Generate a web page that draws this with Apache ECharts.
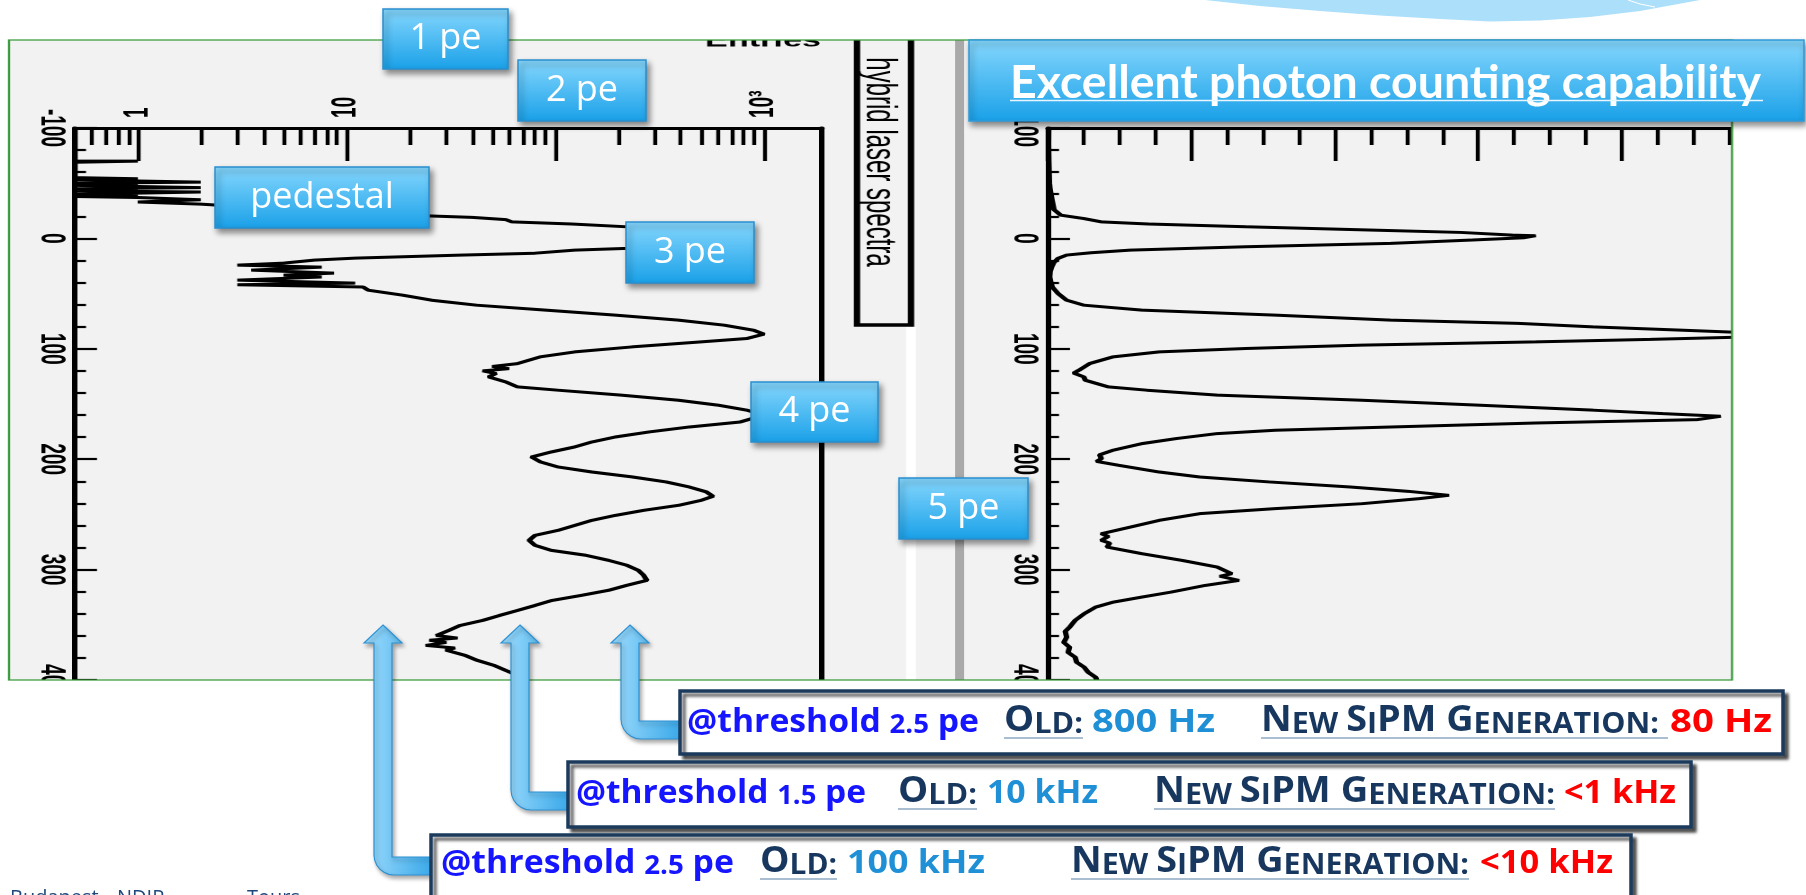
<!DOCTYPE html>
<html><head><meta charset="utf-8">
<script src="https://cdn.jsdelivr.net/npm/echarts@6/dist/echarts.min.js"></script>
<style>
html,body{margin:0;padding:0;background:#fff;overflow:hidden;width:1806px;height:895px;}
#plots{position:absolute;left:0;top:0;width:1004px;height:895px;transform:scaleX(1.8);transform-origin:0 0;}
#overlay{position:absolute;left:0;top:0;width:1806px;height:895px;}
</style></head><body>
<div id="plots"></div><div id="overlay"></div>
<script>
// ---------------- DATA ----------------
const channelTickLabels = ['-100', '0', '100', '200', '300', '400'];
const entriesDecades = [1, 10, 100, 1000];
const entriesDecadeLabels = ['1', '10', '10²', '10³'];
const entriesMinorTicks = [0.6, 0.7, 0.8, 0.9, 2, 3, 4, 5, 6, 7, 8, 9, 20, 30, 40, 50, 60, 70, 80, 90, 200, 300, 400, 500, 600, 700, 800, 900];
const linearMajorTicks = [0, 1000, 2000, 3000, 4000];
const linearMinorTicks = [250, 500, 750, 1250, 1500, 1750, 2250, 2500, 2750, 3250, 3500, 3750, 4250, 4500, 4750];

// left spectrum (log scale): channel vs entries (0 = empty bin)
const leftChannel = [-100, -70, -70, -69, -69, -55, -54, -54, -53, -52, -51, -50, -49, -48, -47, -46, -45, -44, -43, -42, -41, -40, -39, -38, -37, -36, -35, -33, -31, -29, -27, -24, -21, -19, -17, -15, -13, -10.5, -8, -5, -2, 1, 4, 7, 9, 10.6, 13.4, 15.1, 17.9, 19.7, 22.4, 24.2, 26, 28.7, 31.5, 33.3, 35, 37.8, 40.5, 42, 44, 46.9, 51.4, 56, 60.5, 65, 69.5, 74, 78.6, 83.1, 86.7, 90.7, 93.7, 98.3, 102.8, 107.3, 113.4, 116, 118, 120, 122.4, 125.5, 130, 134.5, 137.5, 142, 146.6, 151, 155.6, 160, 166.3, 170.8, 175.3, 179.9, 184.4, 188.9, 193.4, 198, 202.5, 207, 211.6, 216, 220.6, 225.2, 229.6, 233.6, 237.3, 241.8, 246.3, 250.9, 255.4, 260, 264.5, 269, 273.5, 278, 282.6, 287, 291.6, 296, 300.6, 305, 309.8, 314.3, 318.8, 323.4, 328, 332.5, 337, 341.6, 346, 350.6, 355, 359.7, 362, 364, 366, 368.7, 371, 373, 377.7, 382, 386.8, 391.3, 395.8, 400];
const leftEntries = [0, 0, 1, 1, 0, 0, 0, 1, 0, 1, 2, 0, 1, 0, 1, 2, 0, 1, 0, 2, 1, 0, 1, 0, 1, 1, 2, 1, 2, 3, 5, 9, 20, 40, 58, 62, 120, 221, 400, 620, 720, 650, 480, 330, 221, 124, 80, 35, 11, 7, 5, 3, 7.6, 3.5, 8.7, 5, 7.6, 3, 11, 3, 12, 12.7, 18.6, 25.6, 42, 90, 194, 389, 646, 890, 1000, 830, 500, 233, 124, 85, 66, 50, 60, 45, 52, 48, 58, 66, 103, 207, 390, 600, 830, 1000, 770, 440, 282, 194, 150, 124, 96, 77, 85, 103, 150, 233, 340, 440, 530, 570, 500, 390, 266, 194, 150, 124, 103, 80, 75, 80, 96, 140, 180, 220, 250, 265, 275, 220, 180, 133, 96, 80, 66, 54, 45, 35, 31, 27, 34, 25, 30, 24, 33, 30, 37, 42, 51, 58, 66, 70];

// right spectrum (linear scale)
const rightChannel = [-100, -85, -70, -60, -50, -44, -35, -26, -21, -18, -15, -13, -10.5, -7.5, -5.4, -3, -2.4, -0.6, 1.5, 4.5, 7.6, 10.6, 13, 15.1, 18.1, 22, 26, 30, 35, 40, 44, 49.9, 56, 60.5, 65, 69.5, 74, 77, 80.1, 83.1, 86.1, 88, 89.2, 91.5, 93.7, 96.7, 99.7, 102.8, 107.3, 113.3, 119.4, 122, 125.5, 128.5, 134.5, 137.5, 142, 146.6, 151, 155.6, 158.7, 161.1, 164.1, 167.2, 170.8, 173.8, 176.8, 181.3, 185.9, 191.9, 196, 199.5, 202, 205.5, 211.6, 216.1, 220.6, 225.2, 229.1, 232.7, 235.7, 240.3, 244.8, 249.3, 255.4, 261.5, 267.5, 270, 273.5, 276, 279.6, 285.6, 291.7, 297.7, 303.7, 306, 309.8, 314.3, 320.4, 324.9, 329.5, 334, 340, 346, 352.2, 356, 361.2, 366, 370.3, 375, 379.3, 384, 388.4, 393, 397.5, 400];
const rightEntries = [5, 4, 6, 8, 10, 15, 28, 42, 90, 250, 370, 700, 1380, 2270, 2880, 3240, 3400, 3320, 2960, 2390, 1380, 573, 300, 130, 70, 40, 25, 15, 12, 20, 30, 70, 130, 250, 655, 1584, 2390, 3280, 3800, 4410, 5000, 5100, 4900, 4200, 3400, 2190, 1380, 776, 453, 291, 216, 180, 250, 260, 420, 690, 1180, 2190, 2996, 3800, 4290, 4690, 4530, 3400, 2390, 1584, 1180, 895, 655, 453, 360, 372, 340, 493, 776, 1058, 1543, 2108, 2512, 2795, 2590, 2190, 1584, 1058, 776, 573, 372, 420, 372, 430, 412, 655, 936, 1180, 1280, 1200, 1330, 1097, 857, 655, 453, 332, 252, 189, 150, 120, 130, 110, 150, 140, 189, 200, 252, 280, 332, 340];

// slide texts
const peLabels = ['1 pe', '2 pe', 'pedestal', '3 pe', '4 pe', '5 pe'];
const bannerTitle = 'Excellent photon counting capability';
const thresholds = ['2.5', '1.5', '2.5'];
const oldRates = ['800 Hz', '10 kHz', '100 kHz'];
const newRates = ['80 Hz', '<1 kHz', '<10 kHz'];
const footerWords = ['Budapest', 'NDIP', 'Tours'];

// ---------------- PLOTS (stretched like the pasted ROOT pictures) ----------------
const S = 1.8;
const X = px => px / S;
const LOG_MIN = 0.5, LOG_MAX = 1900, LIN_MAX = 4770;
const tickFont = {fontFamily: 'Liberation Sans, Arial, sans-serif', fontWeight: 'bold', fontSize: 19, color: '#000'};

function chanAxis(gridIndex, pos, withTicks) {
  return {
    type: 'value', gridIndex, position: pos, min: -100, max: 400, interval: 100, inverse: true,
    axisLine: {show: true, onZero: false, lineStyle: {color: '#000', width: 3}},
    axisTick: {show: withTicks, inside: true, length: X(22), lineStyle: {color: '#000', width: 2.2}},
    minorTick: {show: withTicks, splitNumber: 5, length: X(11), lineStyle: {color: '#000', width: 2.2}},
    axisLabel: Object.assign({show: withTicks, rotate: -90, margin: 4,
      formatter: v => channelTickLabels[Math.round((v + 100) / 100)] || ''}, tickFont),
    splitLine: {show: false}, minorSplitLine: {show: false}
  };
}
function decadeLabel(v) {
  const i = entriesDecades.findIndex(d => Math.abs(d - v) < 1e-6 * d);
  return i >= 0 ? entriesDecadeLabels[i] : '';
}
const topLine = {show: true, onZero: false, lineStyle: {color: '#000', width: 3}};
const noLine = {show: false, onZero: false};

const plotsOption = {
  animation: false,
  backgroundColor: '#f2f2f2',
  grid: [
    {left: X(75), top: 128, width: X(822) - X(75), height: 552, outerBoundsMode: 'none', containLabel: false},
    {left: X(1048), top: 128, width: X(1732) - X(1048), height: 552, outerBoundsMode: 'none', containLabel: false}
  ],
  xAxis: [
    {type: 'log', logBase: 10, gridIndex: 0, position: 'top', min: LOG_MIN, max: LOG_MAX,
      axisLine: topLine,
      axisTick: {show: true, inside: true, length: 33, customValues: entriesDecades, lineStyle: {color: '#000', width: 2.2}},
      axisLabel: Object.assign({show: true, rotate: -90, margin: 10, customValues: entriesDecades, formatter: decadeLabel}, tickFont),
      splitLine: {show: false}},
    {type: 'log', logBase: 10, gridIndex: 0, position: 'top', min: LOG_MIN, max: LOG_MAX,
      axisLine: noLine,
      axisTick: {show: true, inside: true, length: 17, customValues: entriesMinorTicks, lineStyle: {color: '#000', width: 2.2}},
      axisLabel: {show: false}, splitLine: {show: false}},
    {type: 'value', gridIndex: 1, position: 'top', min: 0, max: LIN_MAX,
      axisLine: topLine,
      axisTick: {show: true, inside: true, length: 33, customValues: linearMajorTicks, lineStyle: {color: '#000', width: 2.2}},
      axisLabel: {show: false}, splitLine: {show: false}},
    {type: 'value', gridIndex: 1, position: 'top', min: 0, max: LIN_MAX,
      axisLine: noLine,
      axisTick: {show: true, inside: true, length: 17, customValues: linearMinorTicks, lineStyle: {color: '#000', width: 2.2}},
      axisLabel: {show: false}, splitLine: {show: false}}
  ],
  yAxis: [chanAxis(0, 'left', true), chanAxis(0, 'right', false), chanAxis(1, 'left', true)],
  series: [
    {type: 'line', xAxisIndex: 0, yAxisIndex: 0, symbol: 'none', clip: true, z: 3,
      lineStyle: {color: '#000', width: 3},
      data: leftChannel.map((c, i) => [Math.max(leftEntries[i], LOG_MIN), c])},
    {type: 'line', xAxisIndex: 2, yAxisIndex: 2, symbol: 'none', clip: true, z: 3,
      lineStyle: {color: '#000', width: 3},
      data: rightChannel.map((c, i) => [rightEntries[i], c])}
  ],
  graphic: {elements: [
    {type: 'rect', z: 1, shape: {x: X(906), y: 327, width: X(10), height: 360}, style: {fill: '#ffffff'}},
    {type: 'rect', z: 1, shape: {x: X(955), y: 30, width: X(9), height: 660}, style: {fill: '#a9a9a9'}},
    {type: 'rect', z: 2, shape: {x: X(857), y: 20, width: X(54), height: 305}, style: {fill: '#f2f2f2', stroke: '#000', lineWidth: 3.5}},
    {type: 'text', z: 3, x: X(879), y: 162, rotation: -Math.PI / 2,
      style: {text: 'hybrid laser spectra', fontFamily: 'Liberation Sans, Arial, sans-serif', fontSize: 24, fill: '#000', align: 'center', verticalAlign: 'middle'}},
    {type: 'text', z: 3, x: X(705), y: 51,
      style: {text: 'Entries', fontFamily: 'Liberation Sans, Arial, sans-serif', fontWeight: 'bold', fontSize: 19, fill: '#000', align: 'left', verticalAlign: 'bottom'}},
    {type: 'rect', z: 100, shape: {x: 0, y: 0, width: 1010, height: 40}, style: {fill: '#fff'}},
    {type: 'rect', z: 100, shape: {x: 0, y: 680, width: 1010, height: 215}, style: {fill: '#fff'}},
    {type: 'rect', z: 100, shape: {x: 0, y: 0, width: X(9), height: 895}, style: {fill: '#fff'}},
    {type: 'rect', z: 100, shape: {x: X(1732), y: 0, width: 100, height: 895}, style: {fill: '#fff'}},
    {type: 'rect', z: 101, shape: {x: X(9), y: 40, width: X(1723), height: 640}, style: {fill: 'none', stroke: '#3a9a3a', lineWidth: 1.2}}
  ]}
};
const plots = echarts.init(document.getElementById('plots'), null, {renderer: 'canvas', devicePixelRatio: 2});
plots.setOption(plotsOption);

// ---------------- SLIDE OVERLAY ----------------
const FONT = 'Open Sans, Lato, sans-serif';
const mctx = document.createElement('canvas').getContext('2d');
const blueGrad = () => new echarts.graphic.LinearGradient(0, 0, 0, 1, [{offset: 0, color: '#86d7fd'}, {offset: 1, color: '#19a0e8'}]);
function blueBox(x, y, w, h, label, fs) {
  return [
    {type: 'rect', shape: {x, y, width: w, height: h}, style: {fill: blueGrad(), stroke: '#2a8fce', lineWidth: 1.5,
      shadowBlur: 6, shadowOffsetX: 3, shadowOffsetY: 4, shadowColor: 'rgba(0,0,0,0.45)'}},
    {type: 'text', x: x + w / 2, y: y + h / 2, style: {text: label, fill: '#fff', fontSize: fs, fontFamily: FONT, align: 'center', verticalAlign: 'middle'}}
  ];
}
function arrow(cx, cy, ex) {
  const w = 9, hw = 19, ht = 625, hb = 643, R = 20;
  const pts = [[cx, ht], [cx + hw, hb], [cx + w, hb], [cx + w, cy - w], [ex, cy - w], [ex, cy + w]];
  for (let k = 0; k <= 6; k++) {
    const a = Math.PI / 2 + (Math.PI / 2) * k / 6;
    pts.push([cx - w + R + R * Math.cos(a), cy + w - R + R * Math.sin(a)]);
  }
  pts.push([cx - w, hb], [cx - hw, hb]);
  return {type: 'polygon', shape: {points: pts}, style: {
    fill: new echarts.graphic.LinearGradient(0, 0, 1, 0, [{offset: 0, color: '#9edcfd'}, {offset: 1, color: '#35a6e8'}]),
    stroke: '#2d92d3', lineWidth: 1.2, shadowBlur: 4, shadowOffsetX: 2, shadowOffsetY: 3, shadowColor: 'rgba(0,0,0,0.35)'}};
}
const tok = (fs, color) => ({fontFamily: FONT, fontWeight: 'bold', fontSize: fs, fill: color, lineHeight: 44, verticalAlign: 'bottom'});
const rich = {
  th: tok(33, '#1515ff'), thd: tok(27, '#1515ff'),
  cap: tok(36, '#17375e'), sm: tok(29, '#17375e'),
  val: tok(33, '#1f8fd6'), red: tok(33, '#ff0000')
};
function richWidth(text) {
  let w = 0, m;
  const re = /\{(\w+)\|([^}]*)\}/g;
  while ((m = re.exec(text))) {
    const st = rich[m[1]];
    mctx.font = 'bold ' + st.fontSize + 'px ' + FONT;
    w += mctx.measureText(m[2]).width;
  }
  return w;
}
function seg(x, base, text, target) {
  const nat = richWidth(text);
  const sx = nat > 0 ? target / nat : 1;
  return {type: 'text', x, y: base - 15, scaleX: sx, style: {text, rich, align: 'left', verticalAlign: 'middle'}};
}
function uline(x1, x2, yy, color, w) {
  return {type: 'line', shape: {x1, y1: yy, x2, y2: yy}, style: {stroke: color, lineWidth: w}};
}
const infoBoxes = [
  {x: 680, y: 691, w: 1103, h: 63, base: 732, xs: [687, 1004, 1092, 1261, 1670], ws: [292, 79, 123, 398, 102], ul: [[1004, 1083], [1261, 1668]]},
  {x: 568, y: 762, w: 1123, h: 65, base: 803, xs: [576, 898, 987, 1154, 1564], ws: [290, 79, 111, 401, 112], ul: [[898, 977], [1154, 1555]]},
  {x: 431, y: 835, w: 1200, h: 72, base: 873, xs: [441, 760, 847, 1071, 1480], ws: [293, 77, 138, 398, 133], ul: [[760, 837], [1071, 1469]]}
];
const arrows = [[630, 730, 684], [520, 801, 572], [383, 866, 435]];
const peBoxes = [[383, 9, 125, 60], [518, 60, 128, 61], [215, 167, 214, 61], [626, 222, 128, 61], [751, 382, 127, 60], [899, 478, 129, 61]];

const els = [];
els.push({type: 'polygon', shape: {points: [[1205, 0], [1260, 6], [1320, 11], [1380, 15.5], [1440, 19], [1490, 21.5], [1540, 20.5], [1590, 17], [1640, 11], [1700, 0]]},
  style: {fill: '#acdffa'}});
els.push({type: 'polyline', shape: {points: [[1628, 0], [1640, 4], [1655, 7]]}, style: {stroke: '#ffffff', lineWidth: 1}});
els.push({type: 'rect', shape: {x: 969, y: 40, width: 835, height: 81}, style: {fill: blueGrad(), stroke: '#2f9ad8', lineWidth: 1.5,
  shadowBlur: 6, shadowOffsetX: 2, shadowOffsetY: 4, shadowColor: 'rgba(0,0,0,0.45)'}});
mctx.font = 'bold 45px Lato, Open Sans, sans-serif';
const bannerScale = 751 / mctx.measureText(bannerTitle).width;
els.push({type: 'text', x: 1010, y: 83, scaleX: bannerScale, style: {text: bannerTitle, fill: '#fff', fontFamily: 'Lato, Open Sans, sans-serif', fontWeight: 'bold', fontSize: 45, align: 'left', verticalAlign: 'middle'}});
els.push(uline(1010, 1763, 100.5, '#eaf6ff', 1.5));
peBoxes.forEach((b, i) => els.push(...blueBox(b[0], b[1], b[2], b[3], peLabels[i], 36)));
arrows.forEach(a => els.push(arrow(a[0], a[1], a[2])));
infoBoxes.forEach((b, i) => {
  els.push({type: 'rect', shape: {x: b.x, y: b.y, width: b.w, height: b.h}, style: {fill: '#fff', stroke: '#1b3a5c', lineWidth: 3.5,
    shadowBlur: 3, shadowOffsetX: 4, shadowOffsetY: 4, shadowColor: 'rgba(0,0,0,0.6)'}});
  els.push(seg(b.xs[0], b.base, '{th|@threshold }{thd|' + thresholds[i] + '}{th| pe}', b.ws[0]));
  els.push(seg(b.xs[1], b.base, '{cap|O}{sm|LD:}', b.ws[1]));
  els.push(seg(b.xs[2], b.base, '{val|' + oldRates[i] + '}', b.ws[2]));
  els.push(seg(b.xs[3], b.base, '{cap|N}{sm|EW }{cap|S}{sm|I}{cap|PM G}{sm|ENERATION:}', b.ws[3]));
  els.push(seg(b.xs[4], b.base, '{red|' + newRates[i] + '}', b.ws[4]));
  b.ul.forEach(u => els.push(uline(u[0], u[1], b.base + 6, '#8ea8c2', 1.5)));
});
[10, 117, 247].forEach((x, i) => els.push({type: 'text', x, y: 888, style: {text: footerWords[i], fill: '#1f497d', fontFamily: FONT, fontSize: 20, align: 'left', verticalAlign: 'top'}}));

const overlay = echarts.init(document.getElementById('overlay'), null, {renderer: 'canvas'});
overlay.setOption({animation: false, graphic: {elements: els}});
</script>
</body></html>
